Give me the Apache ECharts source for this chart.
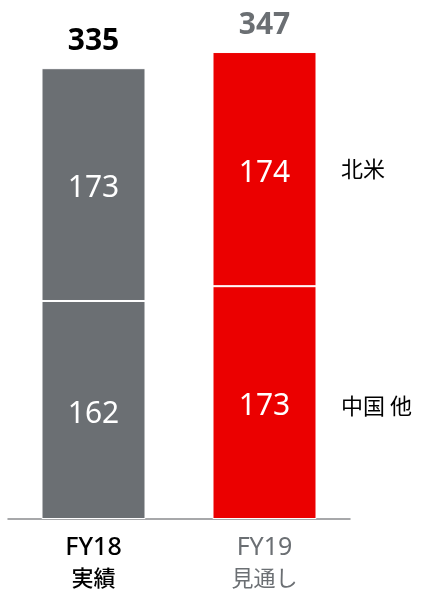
<!DOCTYPE html>
<html><head><meta charset="utf-8">
<script src="https://cdn.jsdelivr.net/npm/echarts@6/dist/echarts.min.js"></script>
<style>html,body{margin:0;padding:0;background:#fff}#c{width:421px;height:591px}</style>
</head><body><div id="c"></div>
<script>
const categories = ['FY18', 'FY19'];
const subLabels = ['実績', '見通し'];
const chinaOther = [162, 173];
const northAmerica = [173, 174];
const totals = [335, 347];
const seriesNames = ['中国 他', '北米'];

const GRAY = '#6b6f73', RED = '#eb0000';
const FONT = '"Noto Sans", "Noto Sans CJK JP", sans-serif';
const CJK = '"Noto Sans CJK JP", sans-serif';
const chart = echarts.init(document.getElementById('c'));
const barColor = (i) => i === 0 ? GRAY : RED;
const valLabel = {show: true, position: 'inside', offset: [0, 4], color: '#fff', fontSize: 30, fontFamily: FONT};
const option = {
  animation: false,
  grid: {left: 8, right: 71, top: 48, bottom: 72},
  xAxis: {
    type: 'category', data: categories,
    axisLine: {lineStyle: {color: '#8a8c8e', width: 1.5}},
    axisTick: {show: false},
    axisLabel: {
      margin: 14, fontFamily: FONT,
      formatter: (v, i) => i === 0 ? `{a|${v}}\n{b|${subLabels[i]}}` : `{c|${v}}\n{d|${subLabels[i]}}`,
      rich: {
        a: {fontSize: 25, color: '#000', fontWeight: 500, lineHeight: 30, fontFamily: FONT},
        b: {fontSize: 22, color: '#000', fontWeight: 500, lineHeight: 30, fontFamily: CJK},
        c: {fontSize: 25, color: GRAY, lineHeight: 30, fontFamily: FONT},
        d: {fontSize: 22, color: GRAY, lineHeight: 30, fontFamily: CJK}
      }
    }
  },
  yAxis: {type: 'value', min: 0, max: 350, show: false, splitLine: {show: false}},
  series: [
    {name: seriesNames[0], type: 'bar', stack: 's', barWidth: 104,
     data: chinaOther.map((v, i) => ({value: v, itemStyle: {color: barColor(i), borderColor: '#fff', borderWidth: 1}})),
     label: valLabel},
    {name: seriesNames[1], type: 'bar', stack: 's', barWidth: 104,
     data: northAmerica.map((v, i) => ({value: v, itemStyle: {color: barColor(i), borderColor: '#fff', borderWidth: 1}})),
     label: valLabel},
    {name: 'total', type: 'bar', stack: 's', barWidth: 104,
     data: totals.map((t, i) => ({value: 0, label: {color: i === 0 ? '#000' : GRAY}})),
     itemStyle: {color: 'transparent'},
     label: {show: true, position: 'top', distance: 12, fontSize: 30, fontWeight: 'bold', fontFamily: FONT,
       formatter: p => totals[p.dataIndex]}}
  ]
};
chart.setOption(option);
const midLow = chart.convertToPixel({seriesIndex: 0}, [1, chinaOther[1] / 2]);
const midHigh = chart.convertToPixel({seriesIndex: 0}, [1, chinaOther[1] + northAmerica[1] / 2]);
chart.setOption({graphic: [
  {type: 'text', left: 341, top: midHigh[1] - 11, style: {text: seriesNames[1], fontSize: 22, fill: '#000', fontFamily: CJK}},
  {type: 'text', left: 341, top: midLow[1] - 8, style: {text: seriesNames[0], fontSize: 22, fill: '#000', fontFamily: CJK}}
]});
</script></body></html>
